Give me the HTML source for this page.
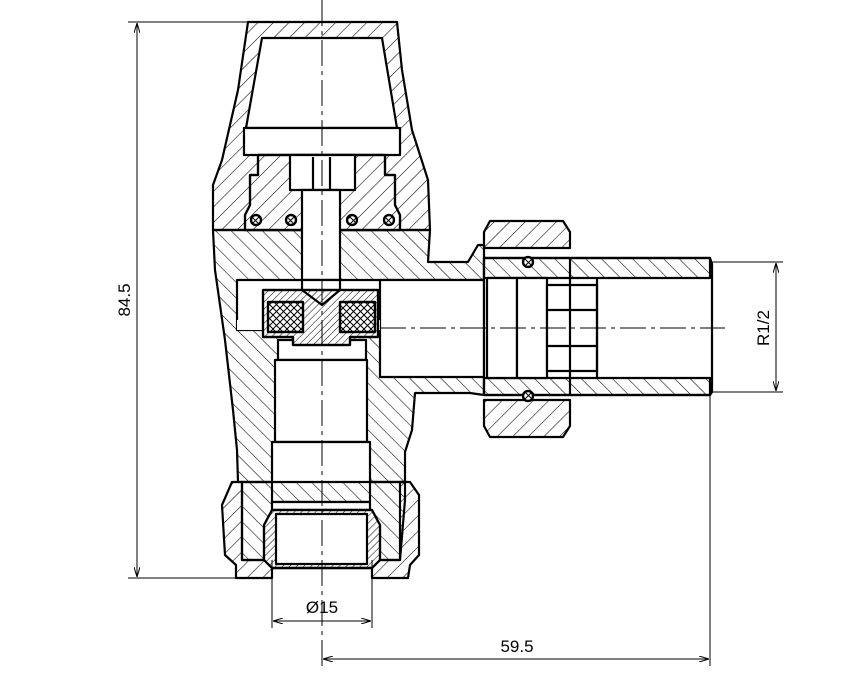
<!DOCTYPE html>
<html><head><style>body{margin:0;background:#fff}svg{display:block}</style></head><body>
<svg width="861" height="700" viewBox="0 0 861 700" xmlns="http://www.w3.org/2000/svg">
<defs>
<pattern id="h" width="11" height="11" patternUnits="userSpaceOnUse" patternTransform="rotate(45)"><line x1="0" y1="0" x2="0" y2="11" stroke="#000" stroke-width="1.1"/></pattern>
<pattern id="h2" width="11" height="11" patternUnits="userSpaceOnUse" patternTransform="rotate(-45)"><line x1="0" y1="0" x2="0" y2="11" stroke="#000" stroke-width="1.1"/></pattern>
<pattern id="hf" width="5" height="5" patternUnits="userSpaceOnUse" patternTransform="rotate(45)"><line x1="0" y1="0" x2="0" y2="5" stroke="#000" stroke-width="1"/></pattern>
<pattern id="x" width="7" height="7" patternUnits="userSpaceOnUse"><path d="M0,0L7,7M7,0L0,7" stroke="#000" stroke-width="1"/></pattern>
<marker id="a" viewBox="0 0 10 6" refX="10" refY="3" markerWidth="10" markerHeight="6" orient="auto-start-reverse" markerUnits="userSpaceOnUse"><path d="M0,0L10,3L0,6" fill="none" stroke="#000"/></marker>
</defs>
<g stroke="#000" stroke-width="2.2" stroke-linejoin="round">
<!-- cap -->
<path d="M248,22 L397,22 L402,70 L412,130 L428,180 L430,230 L213,230 L213,185 L222,160 L238,90 Z" fill="url(#h)"/>
<!-- body -->
<path d="M213,230 L430,230 L428,262 L468,262 L478,245 L484,245 L484,395 L470,393 L415,393 L412,430 L405,452 L405,482 L238,482 L237,450 L233,410 L225,340 L215,270 Z" fill="url(#h2)"/>
<path d="M262,38 L382,38 L397,128 L246,128 Z" fill="#fff"/>
<rect x="244" y="128" width="156" height="27" fill="#fff"/>
<path d="M258,155 L385,155 L385,175 L395,175 L395,205 L400,215 L400,230 L245,230 L245,215 L250,205 L250,175 L258,175 Z" fill="#fff"/>
<path d="M258,155 L385,155 L385,175 L395,175 L395,205 L400,215 L400,230 L245,230 L245,215 L250,205 L250,175 L258,175 Z" fill="url(#h)"/>
<rect x="290" y="155" width="65" height="35" fill="#fff"/>
<rect x="302" y="190" width="38" height="90" fill="#fff"/>
<line x1="313" y1="157" x2="313" y2="190"/><line x1="330" y1="157" x2="330" y2="190"/>
<!-- chamber and bore -->
<rect x="237" y="280" width="247" height="50" fill="#fff"/>
<rect x="380" y="280" width="104" height="97" fill="#fff"/>
<rect x="237" y="320" width="143" height="10" fill="#fff" stroke="none"/>
<rect x="278" y="340" width="88" height="20" fill="#fff"/>
<rect x="275" y="360" width="92" height="82" fill="#fff"/>
<rect x="272" y="442" width="98" height="60" fill="#fff"/>
<!-- disc -->
<path d="M263,290 L378,290 L378,337 L350,337 L350,345 L293,345 L293,337 L263,337 Z" fill="#fff"/>
<path d="M263,290 L378,290 L378,337 L350,337 L350,345 L293,345 L293,337 L263,337 Z" fill="url(#hf)"/>
<rect x="268" y="302" width="35" height="30" fill="#fff"/>
<rect x="340" y="302" width="35" height="30" fill="#fff"/>
<rect x="268" y="302" width="35" height="30" fill="url(#x)"/>
<rect x="340" y="302" width="35" height="30" fill="url(#x)"/>
<path d="M302,280 L302,290 L322,305 L340,290 L340,280" fill="none"/>
<!-- bottom nut -->
<path d="M232,482 L242,482 L242,560 L272,560 L272,578 L236,578 L236,565 L225,555 L222,505 Z" fill="url(#h)"/>
<path d="M400,482 L410,482 L419,495 L419,555 L410,565 L408,578 L372,578 L372,560 L400,560 Z" fill="url(#h)"/>
<path d="M242,482 L405,482 L405,500 L400,560 L242,560 Z" fill="url(#h2)"/>
<rect x="272" y="502" width="98" height="8" fill="#fff"/>
<path d="M272,510 L372,510 L380,525 L380,560 L372,568 L272,568 L264,560 L264,525 Z" fill="#fff"/>
<path d="M272,510 L372,510 L380,525 L380,560 L372,568 L272,568 L264,560 L264,525 Z" fill="url(#hf)"/>
<rect x="276" y="514" width="91" height="50" fill="#fff"/>
<line x1="272" y1="568" x2="372" y2="568"/>
<!-- right nut -->
<path d="M490,221 L563,221 L570,232 L570,248 L484,248 L484,232 Z" fill="url(#h)"/>
<path d="M484,400 L570,400 L570,426 L563,437 L490,437 L484,426 Z" fill="url(#h)"/>
<!-- tail pipe -->
<path d="M484,258 L710,258 L712,264 L712,392 L710,395 L484,395 Z" fill="#fff"/>
<rect x="484" y="258" width="226" height="20" fill="url(#h2)"/>
<rect x="484" y="378" width="226" height="17" fill="url(#h2)"/>
<rect x="487" y="278" width="30" height="100" fill="#fff"/>
<rect x="517" y="278" width="30" height="100" fill="#fff"/>
<rect x="547" y="285" width="50" height="86" fill="#fff"/>
<line x1="597" y1="278" x2="597" y2="378"/>
<line x1="547" y1="310" x2="597" y2="310"/><line x1="547" y1="346" x2="597" y2="346"/>
<line x1="570" y1="258" x2="570" y2="395"/>
<circle cx="528" cy="262" r="5" fill="#fff"/><circle cx="528" cy="396" r="5" fill="#fff"/>
<circle cx="528" cy="262" r="5" fill="url(#x)"/><circle cx="528" cy="396" r="5" fill="url(#x)"/>
<g fill="#fff"><circle cx="256" cy="220" r="5"/><circle cx="389" cy="220" r="5"/><circle cx="291" cy="220" r="5"/><circle cx="352" cy="220" r="5"/></g>
<circle cx="256" cy="220" r="5" fill="url(#x)"/><circle cx="389" cy="220" r="5" fill="url(#x)"/>
<circle cx="291" cy="220" r="5" fill="url(#x)"/><circle cx="352" cy="220" r="5" fill="url(#x)"/>
</g>
<!-- centre lines -->
<g stroke="#000" stroke-width="1" stroke-dasharray="26,5,4,5" fill="none">
<line x1="322" y1="0" x2="322" y2="668"/>
<line x1="380" y1="328" x2="725" y2="328"/>
</g>
<!-- dimensions -->
<g stroke="#000" stroke-width="1" fill="none">
<line x1="128" y1="22" x2="248" y2="22"/><line x1="128" y1="578" x2="236" y2="578"/>
<line x1="137" y1="23" x2="137" y2="577" marker-start="url(#a)" marker-end="url(#a)"/>
<line x1="272" y1="560" x2="272" y2="628"/><line x1="372" y1="560" x2="372" y2="628"/>
<line x1="273" y1="621" x2="371" y2="621" marker-start="url(#a)" marker-end="url(#a)"/>
<line x1="710" y1="395" x2="710" y2="666"/>
<line x1="323" y1="659" x2="709" y2="659" marker-start="url(#a)" marker-end="url(#a)"/>
<line x1="712" y1="262" x2="783" y2="262"/><line x1="712" y1="392" x2="783" y2="392"/>
<line x1="776" y1="263" x2="776" y2="391" marker-start="url(#a)" marker-end="url(#a)"/>
</g>
<g font-family="Liberation Sans, sans-serif" font-size="17" fill="#000">
<text x="130" y="300" transform="rotate(-90 130 300)" text-anchor="middle">84.5</text>
<text x="322" y="613" text-anchor="middle">Ø15</text>
<text x="517" y="652" text-anchor="middle">59.5</text>
<text x="769" y="328" transform="rotate(-90 769 328)" text-anchor="middle">R1/2</text>
</g>
</svg>
</body></html>
